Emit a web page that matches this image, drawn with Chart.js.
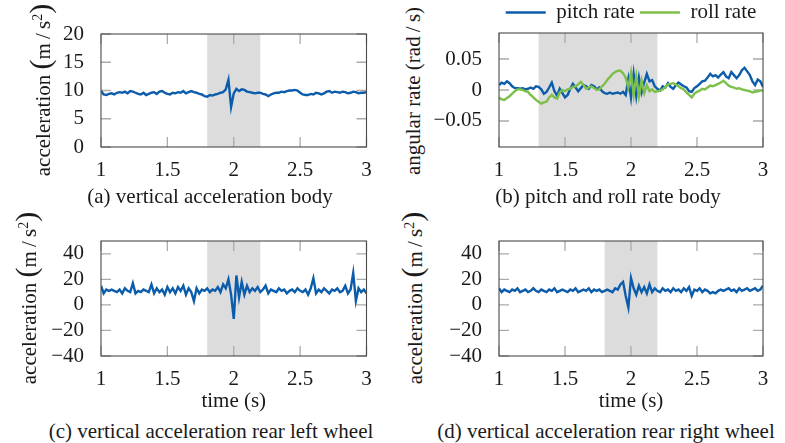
<!DOCTYPE html>
<html>
<head>
<meta charset="utf-8">
<script src="https://cdn.jsdelivr.net/npm/chart.js@4.4.1/dist/chart.umd.min.js"></script>
<style>
  body { margin: 0; background: #fff; width: 785px; height: 443px; position: relative; overflow: hidden;
         font-family: "Liberation Serif", "Times New Roman", serif; color: #1a1a1a; }
  canvas { position: absolute; }
  .cap { position: absolute; font-size: 21px; white-space: nowrap; transform: translate(-50%, -50%); }
  .ytitle { position: absolute; font-size: 21px; white-space: nowrap; transform: translate(-50%, -50%) rotate(-90deg); }
  .big { font-size: 30px; }
  sup { font-size: 14px; }
</style>
</head>
<body>
<canvas id="chartA" width="340" height="186" style="left:40px;top:0px"></canvas>
<canvas id="chartB" width="355" height="189" style="left:430px;top:-3px"></canvas>
<canvas id="chartC" width="340" height="207" style="left:40px;top:207px"></canvas>
<canvas id="chartD" width="355" height="207" style="left:430px;top:207px"></canvas>

<div class="ytitle" style="left:40px;top:90px">acceleration <span class="big">(</span>m&#8201;/&#8201;s<sup>2</sup><span class="big">)</span></div>
<div class="ytitle" style="left:413px;top:91px">angular rate (rad&#8201;/&#8201;s)</div>
<div class="ytitle" style="left:26px;top:298px">acceleration <span class="big">(</span>m&#8201;/&#8201;s<sup>2</sup><span class="big">)</span></div>
<div class="ytitle" style="left:412px;top:298px">acceleration <span class="big">(</span>m&#8201;/&#8201;s<sup>2</sup><span class="big">)</span></div>

<div class="cap" style="left:210px;top:196px">(a) vertical acceleration body</div>
<div class="cap" style="left:608px;top:196px">(b) pitch and roll rate body</div>
<div class="cap" style="left:211px;top:431px">(c) vertical acceleration rear left wheel</div>
<div class="cap" style="left:606px;top:431px">(d) vertical acceleration rear right wheel</div>

<script>
// sampled every 0.02 s from 1 s to 3 s
const T_START = 1;
const T_STEP = 0.02;

const X_TICKS = [1, 1.5, 2, 2.5, 3];
const Y_TICKS_BODY = [0, 5, 10, 15, 20];
const Y_TICKS_RATE = [-0.05, 0, 0.05];
const Y_TICKS_WHEEL = [-40, -20, 0, 20, 40];

// shaded event windows (s)
const BAND_ACC = [1.8, 2.2];
const BAND_RATE = [1.3, 2.2];

// (a) vertical acceleration body, m/s^2
const accBody = [
  9.9, 9.3, 9.2, 9.4, 9.5, 9.3, 9.6, 9.7, 9.6, 9.8,
  9.5, 9.9, 9.8, 9.6, 9.4, 9.3, 9.6, 9.2, 9.4, 9.6,
  9.7, 9.4, 9.8, 9.9, 9.6, 9.4, 9.3, 9.6, 9.5, 9.7,
  9.6, 9.9, 9.5, 9.7, 9.9, 9.7, 9.6, 9.4, 9.3, 9.0,
  8.9, 9.2, 9.1, 9.3, 9.4, 9.6, 9.7, 10.2, 11.9, 7.1,
  9.5, 10.3, 9.9, 10.2, 10.1, 9.8, 9.7, 9.6, 9.5, 9.6,
  9.6, 9.4, 9.3, 9.0, 9.3, 9.5, 9.6, 9.6, 9.8, 9.7,
  9.9, 10.0, 10.0, 10.1, 10.0, 9.6, 9.3, 9.2, 9.2, 9.4,
  9.3, 9.6, 9.5, 9.3, 9.5, 9.8, 9.9, 9.6, 9.8, 9.7,
  9.6, 9.8, 9.7, 9.5, 9.6, 9.8, 9.7, 9.5, 9.6, 9.6,
  9.7
];

// (b) pitch and roll rate body, rad/s
const pitchRate = [
  0.008, 0.012, 0.010, 0.014, 0.011, 0.006, 0.003, 0.003, 0.002, 0.003,
  0.001, 0.002, 0.004, 0.002, 0.006, 0.005, 0.001, -0.006, -0.003, 0.004,
  0.012, -0.002, -0.009, 0.002, -0.005, -0.012, -0.008, 0.002, 0.010, 0.004,
  -0.002, 0.003, 0.008, 0.006, 0.002, 0.008, 0.006, 0.001, 0.004, -0.002,
  -0.005, -0.006, -0.004, -0.006, -0.005, -0.004, -0.006, -0.003, -0.008, 0.018,
  -0.012, 0.026, -0.010, 0.020, -0.004, 0.012, 0.026, 0.014, 0.016, 0.006,
  0.002, -0.001, 0.006, 0.004, 0.011, 0.005, 0.002, 0.008, 0.012, 0.009,
  0.006, 0.004, -0.002, -0.003, 0.003, 0.006, 0.010, 0.014, 0.015, 0.020,
  0.026, 0.022, 0.024, 0.020, 0.025, 0.029, 0.022, 0.019, 0.029, 0.024,
  0.019, 0.024, 0.032, 0.036, 0.030, 0.024, 0.014, 0.008, 0.017, 0.014,
  0.005
];
const rollRate = [
  -0.012, -0.015, -0.016, -0.013, -0.010, -0.006, -0.002, 0.001, 0.001, 0.000,
  -0.002, -0.003, -0.008, -0.012, -0.016, -0.019, -0.022, -0.020, -0.019, -0.012,
  -0.008, -0.012, -0.014, -0.004, 0.000, -0.002, 0.001, 0.002, 0.005, 0.006,
  0.009, 0.013, 0.008, 0.002, 0.004, 0.006, 0.003, 0.000, 0.001, 0.006,
  0.010, 0.016, 0.021, 0.026, 0.029, 0.031, 0.031, 0.027, 0.020, 0.004,
  0.028, -0.008, 0.022, -0.010, 0.015, -0.005, 0.008, -0.002, 0.001, -0.003,
  -0.002, -0.001, 0.001, 0.005, 0.009, 0.010, 0.011, 0.009, 0.006, 0.003,
  0.001, -0.004, -0.008, -0.012, -0.006, -0.003, -0.001, 0.002, 0.001, 0.004,
  0.007, 0.006, 0.008, 0.010, 0.012, 0.015, 0.011, 0.007, 0.005, 0.004,
  0.002, 0.003, 0.001, 0.000, -0.001, -0.002, -0.004, -0.003, -0.002, -0.001,
  -0.001
];

// (c) rear left wheel, m/s^2
const accRearLeft = [
  15, 9, 12, 11, 12, 11, 10, 12, 9, 13,
  11, 10, 17, 9, 11, 10, 12, 11, 10, 16,
  9, 13, 10, 12, 8, 14, 10, 13, 9, 14,
  11, 15, 8, 13, 10, 3, 13, 9, 12, 11,
  13, 10, 12, 11, 14, 10, 16, 13, 20, 8,
  -11, 23, 6, 18, 8, 15, 10, 13, 11, 14,
  10, 12, 15, 9, 12, 11, 10, 13, 11, 12,
  9, 11, 12, 10, 13, 11, 10, 12, 8, 13,
  21, 9, 12, 10, 13, 11, 9, 12, 11, 13,
  10, 11, 15, 9, 12, 25, 3, 13, 10, 12,
  9
];

// (d) rear right wheel, m/s^2
const accRearRight = [
  13, 10, 12, 11, 10, 12, 11, 13, 10, 11,
  12, 10, 11, 13, 11, 10, 12, 11, 10, 12,
  11, 13, 10, 11, 12, 11, 10, 12, 11, 13,
  10, 11, 12, 11, 13, 10, 12, 11, 12, 10,
  11, 12, 11, 10, 13, 12, 16, 18, 7, -2,
  21, 13, 8, 15, 10, 14, 9, 16, 10, 13,
  11, 10, 13, 11, 12, 10, 13, 11, 12, 10,
  13, 11, 14, 7, 12, 11, 13, 10, 12, 11,
  9, 10, 9, 11, 12, 11, 12, 13, 11, 12,
  10, 13, 11, 12, 13, 11, 12, 13, 11, 12,
  15
];

const time = accBody.map((_, i) => +(T_START + i * T_STEP).toFixed(2));

const BLUE = '#0b5cab';
const GREEN = '#7cbf4a';
const TEXT = '#1a1a1a';
const LINE_W = 2.4;
const FONT = { family: '"Liberation Serif", "Times New Roman", serif', size: 21 };

/* shaded window, inward tick marks, axis frame */
const panelDecor = {
  id: 'panelDecor',
  beforeDatasetsDraw(chart, args, opts) {
    const { ctx, chartArea: a, scales: { x, y } } = chart;
    const L = 10;
    ctx.save();
    if (opts.band) {
      const x0 = x.getPixelForValue(opts.band[0]);
      const x1 = x.getPixelForValue(opts.band[1]);
      ctx.fillStyle = '#dcdcdc';
      ctx.fillRect(x0, a.top, x1 - x0, a.bottom - a.top);
    }
    ctx.strokeStyle = '#ababab';
    ctx.lineWidth = 1.3;
    ctx.beginPath();
    x.ticks.forEach(t => {
      const px = x.getPixelForValue(t.value);
      ctx.moveTo(px, a.top); ctx.lineTo(px, a.top + L);
      ctx.moveTo(px, a.bottom); ctx.lineTo(px, a.bottom - L);
    });
    y.ticks.forEach(t => {
      const py = y.getPixelForValue(t.value);
      ctx.moveTo(a.left, py); ctx.lineTo(a.left + L, py);
      ctx.moveTo(a.right, py); ctx.lineTo(a.right - L, py);
    });
    ctx.stroke();
    ctx.restore();
  },
  afterDatasetsDraw(chart) {
    const { ctx, chartArea: a } = chart;
    ctx.save();
    ctx.strokeStyle = '#4a4a4a';
    ctx.lineWidth = 1.1;
    ctx.strokeRect(a.left, a.top, a.right - a.left, a.bottom - a.top);
    ctx.restore();
  }
};

function fmt(v) {
  return String(v).replace('-', '\u2212');
}

function makePanel(id, datasets, c) {
  return new Chart(document.getElementById(id), {
    type: 'line',
    data: { labels: time, datasets },
    options: {
      responsive: false,
      animation: false,
      layout: { padding: c.padding },
      elements: { point: { radius: 0 }, line: { tension: 0 } },
      plugins: {
        legend: c.legend || { display: false },
        tooltip: { enabled: false },
        panelDecor: { band: c.band }
      },
      scales: {
        x: {
          type: 'linear', min: 1, max: 3,
          afterBuildTicks: s => { s.ticks = X_TICKS.map(v => ({ value: v })); },
          afterFit: s => { s.height = c.xh; },
          grid: { display: false }, border: { display: false },
          ticks: { color: TEXT, font: FONT, padding: 3, maxRotation: 0, callback: v => fmt(v) },
          title: c.xTitle ? { display: true, text: c.xTitle, color: TEXT, font: FONT, padding: 0 } : { display: false }
        },
        y: {
          type: 'linear', min: c.yMin, max: c.yMax,
          afterBuildTicks: s => { s.ticks = c.yTicks.map(v => ({ value: v })); },
          afterFit: s => { s.width = c.yw; },
          grid: { display: false }, border: { display: false },
          ticks: { color: TEXT, font: FONT, padding: 9, callback: v => fmt(v) }
        }
      }
    },
    plugins: [panelDecor]
  });
}

makePanel('chartA', [
  { label: 'vertical acceleration body', data: accBody, borderColor: BLUE, borderWidth: LINE_W }
], { yMin: 0, yMax: 20, yTicks: Y_TICKS_BODY, band: BAND_ACC, yw: 61, xh: 35,
     padding: { top: 34, right: 13.5, bottom: 4, left: 0 } });

makePanel('chartB', [
  { label: 'pitch rate', data: pitchRate, borderColor: BLUE, borderWidth: LINE_W, order: 1 },
  { label: 'roll rate', data: rollRate, borderColor: GREEN, borderWidth: LINE_W, order: 0 }
], { yMin: -0.092, yMax: 0.092, yTicks: Y_TICKS_RATE, band: BAND_RATE, yw: 69, xh: 35,
     padding: { top: 0, right: 22, bottom: 4, left: 0 },
     legend: {
       display: true, position: 'top', fullSize: false,
       labels: {
         usePointStyle: true, pointStyle: 'line', pointStyleWidth: 40,
         padding: 5, color: TEXT, font: FONT,
         sort: (a, b) => a.datasetIndex - b.datasetIndex
       }
     } });

makePanel('chartC', [
  { label: 'rear left wheel', data: accRearLeft, borderColor: BLUE, borderWidth: LINE_W }
], { yMin: -40, yMax: 50, yTicks: Y_TICKS_WHEEL, band: BAND_ACC, yw: 61, xh: 58, xTitle: 'time (s)',
     padding: { top: 34, right: 13.5, bottom: 0, left: 0 } });

makePanel('chartD', [
  { label: 'rear right wheel', data: accRearRight, borderColor: BLUE, borderWidth: LINE_W }
], { yMin: -40, yMax: 50, yTicks: Y_TICKS_WHEEL, band: BAND_ACC, yw: 69, xh: 58, xTitle: 'time (s)',
     padding: { top: 34, right: 22, bottom: 0, left: 0 } });
</script>
</body>
</html>
